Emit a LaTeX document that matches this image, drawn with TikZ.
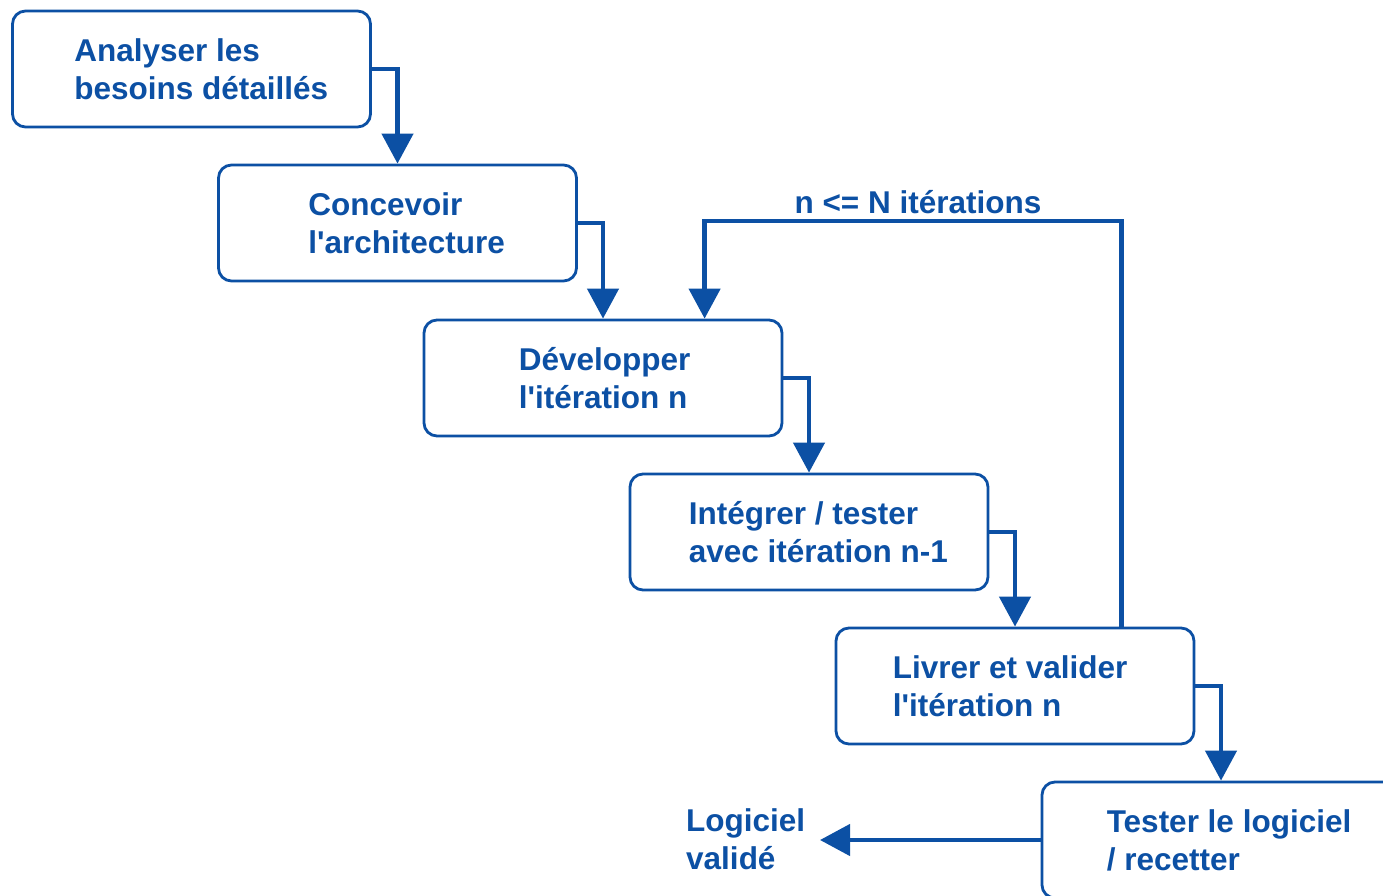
\documentclass[tikz,border=0pt]{standalone}
\usepackage{fontspec}
\setmainfont{Liberation Sans}
\usetikzlibrary{arrows.meta,calc}
\definecolor{procblue}{RGB}{12,80,164}
\newcommand{\apos}{\textquotesingle}
\tikzset{
  stage/.style={draw=procblue, line width=2.8pt, rounded corners=13pt,
    minimum width=358pt, minimum height=116pt, inner sep=0pt},
  stagetext/.style={anchor=west, align=left, inner sep=0pt, text=procblue,
    font=\fontsize{31.5}{38}\selectfont\bfseries},
  flow/.style={draw=procblue, line width=4.5pt,
    -{Triangle[width=31pt,length=30pt]}}
}
\begin{document}
\begin{tikzpicture}[x=1pt,y=-1pt]
  \useasboundingbox (0,0) rectangle (1383,896);
  \clip (0,0) rectangle (1383,896);
  \fill[white] (0,0) rectangle (1383,896);

  % process stages
  \node[stage] (b1) at (191.5,69) {};
  \node[stage] (b2) at (397.5,223) {};
  \node[stage] (b3) at (603,378) {};
  \node[stage] (b4) at (809,532) {};
  \node[stage] (b5) at (1015,686) {};
  \node[stage] (b6) at (1221,840) {};

  \node[stagetext] (t1) at ($(b1.west)+(63,0)$) {Analyser les\\besoins détaillés};
  \node[stagetext] (t2) at ($(b2.west)+(91,0)$) {Concevoir\\l\apos architecture};
  \node[stagetext] (t3) at ($(b3.west)+(96,0)$) {Développer\\l\apos itération n};
  \node[stagetext] (t4) at ($(b4.west)+(60,0)$) {Intégrer / tester\\avec itération n-1};
  \node[stagetext] (t5) at ($(b5.west)+(58,0)$) {Livrer et valider\\l\apos itération n};
  \node[stagetext] (t6) at ($(b6.west)+(66,0)$) {Tester le logiciel\\/ recetter};

  % cascade connectors
  \draw[flow] (b1.east) -| (b2.north);
  \draw[flow] (b2.east) -| (b3.north);
  \draw[flow] (b3.east) -| (b4.north);
  \draw[flow] (b4.east) -| (b5.north);
  \draw[flow] (b5.east) -| (b6.north);

  % iteration loop
  \coordinate (loopstart) at ($(b5.north west)+(287,0)$);
  \coordinate (loopend) at ($(b3.north west)+(282,0)$);
  \coordinate (looptop) at (0,221);
  \draw[flow] (loopstart) -- (loopstart |- looptop) -- (loopend |- looptop) -- (loopend);
  \node[stagetext, anchor=center] (loop) at (918,202) {n <= N itérations};

  % final output
  \node[stagetext] (out) at (686,839) {Logiciel\\validé};
  \coordinate (outx) at (820,0);
  \draw[flow] (b6.west) -- (outx |- b6.west);
\end{tikzpicture}
\end{document}
